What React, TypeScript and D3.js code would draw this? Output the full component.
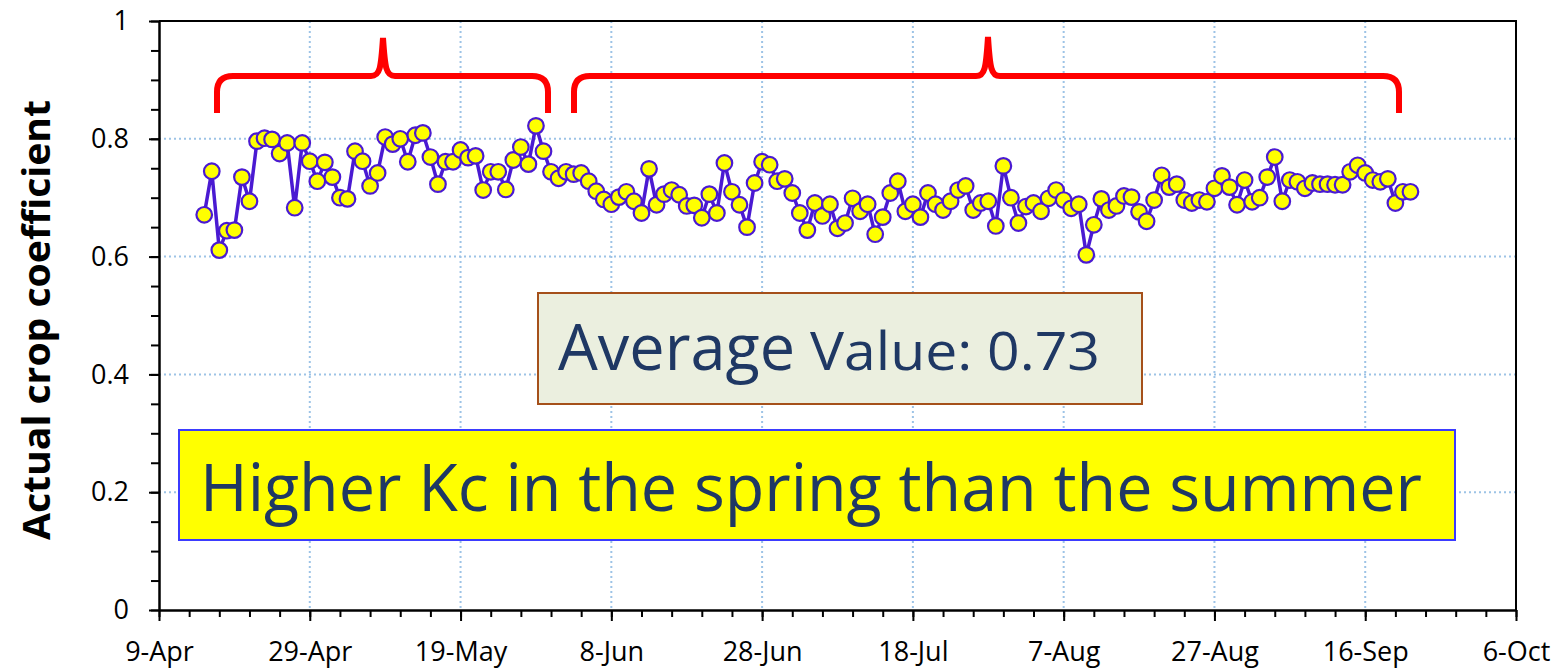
import { useEffect, useRef } from 'react';
import * as d3 from 'd3';

// daily actual crop coefficient, one array per month (first reading 15-Apr)
const firstDay = '15-Apr-2013';
const aprilKc = [0.671, 0.745, 0.611, 0.644, 0.645, 0.735, 0.694, 0.796, 0.801, 0.799, 0.775, 0.793, 0.683, 0.793, 0.762, 0.728];
const mayKc = [0.760, 0.735, 0.700, 0.698, 0.779, 0.762, 0.720, 0.742, 0.803, 0.791, 0.800, 0.761, 0.806, 0.810, 0.769, 0.723, 0.761, 0.761, 0.781, 0.768, 0.771, 0.713, 0.744, 0.744, 0.714, 0.764, 0.786, 0.757, 0.822, 0.779, 0.744];
const juneKc = [0.733, 0.744, 0.740, 0.742, 0.728, 0.711, 0.697, 0.689, 0.701, 0.710, 0.694, 0.674, 0.749, 0.688, 0.706, 0.713, 0.705, 0.686, 0.687, 0.666, 0.706, 0.674, 0.759, 0.710, 0.688, 0.650, 0.725, 0.761, 0.756, 0.728];
const julyKc = [0.732, 0.708, 0.674, 0.645, 0.691, 0.669, 0.689, 0.648, 0.657, 0.699, 0.677, 0.689, 0.638, 0.667, 0.708, 0.728, 0.677, 0.689, 0.667, 0.708, 0.689, 0.679, 0.694, 0.713, 0.720, 0.679, 0.691, 0.694, 0.652, 0.754, 0.700];
const augustKc = [0.657, 0.685, 0.691, 0.677, 0.699, 0.713, 0.696, 0.682, 0.689, 0.603, 0.654, 0.698, 0.679, 0.686, 0.703, 0.701, 0.676, 0.660, 0.696, 0.738, 0.718, 0.723, 0.696, 0.691, 0.696, 0.693, 0.716, 0.737, 0.718, 0.688, 0.730];
const septemberKc = [0.693, 0.700, 0.735, 0.769, 0.694, 0.730, 0.727, 0.716, 0.725, 0.723, 0.723, 0.722, 0.722, 0.744, 0.755, 0.742, 0.730, 0.727, 0.732, 0.691, 0.710, 0.710];

const xTickLabels = ['9-Apr', '29-Apr', '19-May', '8-Jun', '28-Jun', '18-Jul', '7-Aug', '27-Aug', '16-Sep', '6-Oct'];
const yTicks = [0, 0.2, 0.4, 0.6, 0.8, 1];
const yTickLabels = ['0', '0.2', '0.4', '0.6', '0.8', '1'];

const yTitle = 'Actual crop coefficient';
const averageWord = 'Average';
const averageRest = 'Value: 0.73';
const noteText = 'Higher Kc in the spring than the summer';

const FONT = '"Open Sans", "Noto Sans", sans-serif';
const TEXT_BLUE = '#1f3864';
const LINE_PURPLE = '#4a1ad2';

export default function App() {
  const svgRef = useRef<SVGSVGElement>(null);

  useEffect(() => {
    if (!svgRef.current) return;
    const width = 1564;
    const height = 670;
    const margin = { top: 21, right: 48, bottom: 60, left: 159 };
    const parse = d3.timeParse('%d-%b-%Y');

    const svg = d3.select(svgRef.current);
    svg.selectAll('*').remove();
    svg.attr('width', width).attr('height', height);

    const start = parse(firstDay) as Date;
    const values = [...aprilKc, ...mayKc, ...juneKc, ...julyKc, ...augustKc, ...septemberKc];
    const data = values.map((v, i) => ({ date: d3.timeDay.offset(start, i), value: v }));

    const tickDates = xTickLabels.map(l => parse(l + '-2013') as Date);

    const x = d3.scaleTime()
      .domain([tickDates[0], tickDates[tickDates.length - 1]])
      .range([margin.left, width - margin.right]);
    const y = d3.scaleLinear()
      .domain([0, 1])
      .range([height - margin.bottom, margin.top]);

    const x0 = margin.left;
    const x1 = width - margin.right;
    const yBottom = height - margin.bottom;

    // gridlines
    const grid = svg.append('g');
    grid.selectAll('.hgrid')
      .data(yTicks.slice(1, -1))
      .join('line')
      .attr('x1', x0).attr('x2', x1)
      .attr('y1', d => y(d)).attr('y2', d => y(d))
      .attr('stroke', '#9dc3e6')
      .attr('stroke-width', 2)
      .attr('stroke-dasharray', '2,3');
    grid.selectAll('.vgrid')
      .data(tickDates.slice(1, -1))
      .join('line')
      .attr('x1', d => x(d)).attr('x2', d => x(d))
      .attr('y1', margin.top).attr('y2', yBottom)
      .attr('stroke', '#9dc3e6')
      .attr('stroke-width', 2)
      .attr('stroke-dasharray', '2,3');

    // plot border (top and right)
    svg.append('path')
      .attr('d', `M${x0},${margin.top}H${x1}V${yBottom}`)
      .attr('fill', 'none')
      .attr('stroke', '#000')
      .attr('stroke-width', 2);

    // x axis
    const minorDates = d3.range(0, 181, 4).map(d => d3.timeDay.offset(tickDates[0], d));
    svg.append('g')
      .attr('transform', `translate(0,${yBottom})`)
      .call(d3.axisBottom(x).tickValues(minorDates).tickSize(7).tickFormat(() => ''))
      .call(g => g.select('.domain').remove())
      .selectAll('line').attr('stroke', '#000').attr('stroke-width', 2);

    const xAxis = svg.append('g')
      .attr('transform', `translate(0,${yBottom})`)
      .call(d3.axisBottom(x).tickValues(tickDates).tickSize(11).tickSizeOuter(0)
        .tickFormat((_, i) => xTickLabels[i]));
    xAxis.select('.domain').attr('stroke', '#000').attr('stroke-width', 2.5);
    xAxis.selectAll('line').attr('stroke', '#000').attr('stroke-width', 2);
    xAxis.selectAll('text')
      .attr('y', 32)
      .attr('dy', '0.71em')
      .style('font-family', FONT)
      .style('font-size', '27px')
      .style('fill', '#000');

    // y axis
    svg.append('g')
      .attr('transform', `translate(${x0},0)`)
      .call(d3.axisLeft(y).tickValues(d3.range(0, 1.0001, 0.05)).tickSize(8).tickFormat(() => ''))
      .call(g => g.select('.domain').remove())
      .selectAll('line').attr('stroke', '#000').attr('stroke-width', 2);

    const yAxis = svg.append('g')
      .attr('transform', `translate(${x0},0)`)
      .call(d3.axisLeft(y).tickValues(yTicks).tickSize(10).tickSizeOuter(0)
        .tickFormat((_, i) => yTickLabels[i]));
    yAxis.select('.domain').attr('stroke', '#000').attr('stroke-width', 2.5);
    yAxis.selectAll('line').attr('stroke', '#000').attr('stroke-width', 2);
    yAxis.selectAll('text')
      .attr('x', -30)
      .style('font-family', FONT)
      .style('font-size', '27px')
      .style('fill', '#000');

    svg.append('text')
      .attr('transform', `translate(50,320) rotate(-90)`)
      .attr('text-anchor', 'middle')
      .attr('textLength', 440)
      .attr('lengthAdjust', 'spacingAndGlyphs')
      .style('font-family', FONT)
      .style('font-weight', 'bold')
      .style('font-size', '37px')
      .style('fill', '#000')
      .text(yTitle);

    // series
    const line = d3.line<{ date: Date; value: number }>()
      .x(d => x(d.date))
      .y(d => y(d.value));
    svg.append('path')
      .datum(data)
      .attr('d', line)
      .attr('fill', 'none')
      .attr('stroke', LINE_PURPLE)
      .attr('stroke-width', 3.5)
      .attr('stroke-linejoin', 'round');
    svg.append('g')
      .selectAll('circle')
      .data(data)
      .join('circle')
      .attr('cx', d => x(d.date))
      .attr('cy', d => y(d.value))
      .attr('r', 7.8)
      .attr('fill', '#ffff00')
      .attr('stroke', LINE_PURPLE)
      .attr('stroke-width', 2.2);

    // braces
    const brace = (xa: number, xp: number, xb: number, ytop: number) => {
      const ym = 76, yb = 113, r = 16;
      return `M${xa},${yb}V${ym + r}Q${xa},${ym} ${xa + r},${ym}H${xp - 12}` +
        `C${xp - 3},${ym} ${xp - 2},${ym - 8} ${xp},${ytop}` +
        `C${xp + 2},${ym - 8} ${xp + 3},${ym} ${xp + 12},${ym}` +
        `H${xb - r}Q${xb},${ym} ${xb},${ym + r}V${yb}`;
    };
    svg.append('path')
      .attr('d', brace(217, 383, 548, 38))
      .attr('fill', 'none').attr('stroke', '#ff0000').attr('stroke-width', 6);
    svg.append('path')
      .attr('d', brace(574, 988, 1399, 37))
      .attr('fill', 'none').attr('stroke', '#ff0000').attr('stroke-width', 6);

    // average box
    svg.append('rect')
      .attr('x', 538).attr('y', 293).attr('width', 604).attr('height', 111)
      .attr('fill', '#ebefdf').attr('stroke', '#a5501a').attr('stroke-width', 2);
    svg.append('text')
      .attr('x', 558).attr('y', 370)
      .attr('textLength', 237).attr('lengthAdjust', 'spacingAndGlyphs')
      .style('font-family', FONT).style('font-size', '64px').style('fill', TEXT_BLUE)
      .text(averageWord);
    svg.append('text')
      .attr('x', 810).attr('y', 370)
      .attr('textLength', 290).attr('lengthAdjust', 'spacingAndGlyphs')
      .style('font-family', FONT).style('font-size', '53px').style('fill', TEXT_BLUE)
      .text(averageRest);

    // note box
    svg.append('rect')
      .attr('x', 179).attr('y', 430).attr('width', 1276).attr('height', 110)
      .attr('fill', '#ffff00').attr('stroke', '#3b3bff').attr('stroke-width', 2);
    svg.append('text')
      .attr('x', 200).attr('y', 511)
      .attr('textLength', 1222).attr('lengthAdjust', 'spacingAndGlyphs')
      .style('font-family', FONT).style('font-size', '66px').style('fill', TEXT_BLUE)
      .text(noteText);
  }, []);

  return (
    <div style={{ position: 'absolute', left: 0, top: 0 }}>
      <svg ref={svgRef} style={{ display: 'block', background: '#fff' }}></svg>
    </div>
  );
}
